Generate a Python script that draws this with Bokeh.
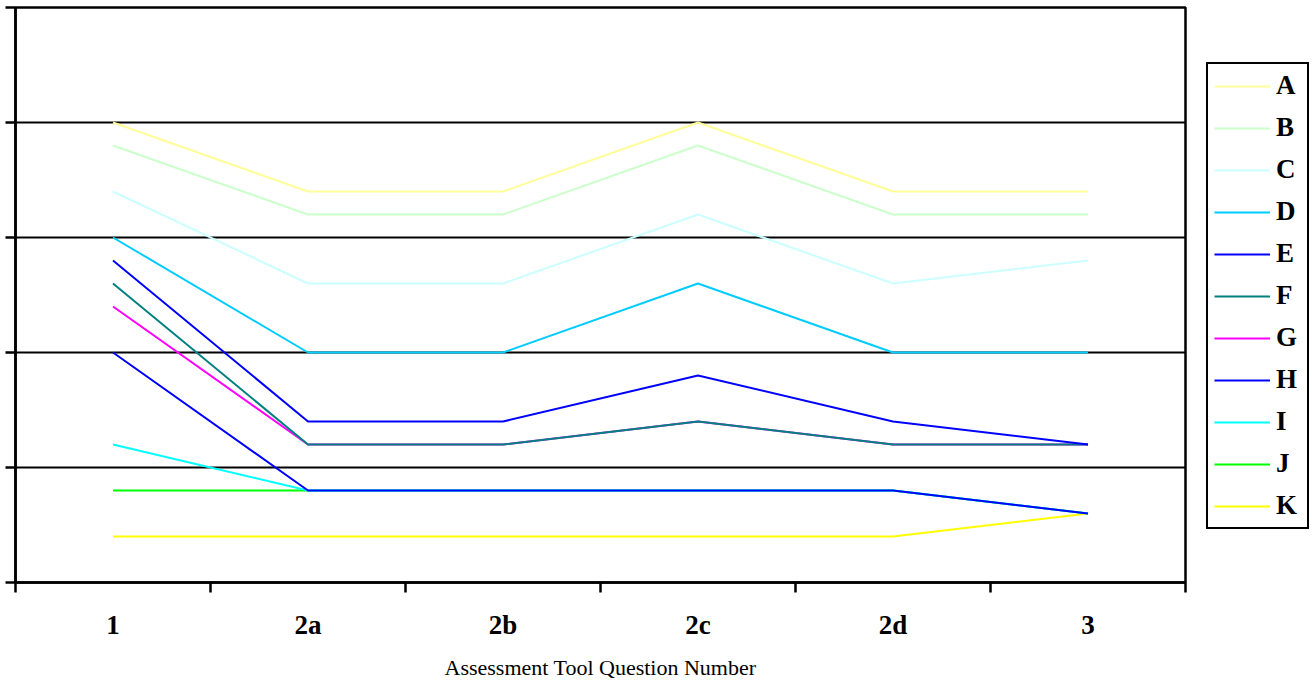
from bokeh.plotting import figure
from bokeh.layouts import row
from bokeh.models import (Range1d, FixedTicker, CustomJSTickFormatter, Legend, LegendItem)
from bokeh.embed import file_html
from bokeh.resources import INLINE

# Question numbers along the horizontal axis
categories = ["1", "2a", "2b", "2c", "2d", "3"]

# Series names, line colours and scores per question
series_names = ["A", "B", "C", "D", "E", "F", "G", "H", "I", "J", "K"]
series_colors = ["#FFFF99", "#CCFFCC", "#CCFFFF", "#00CCFF", "#0000FF", "#008080",
                 "#FF00FF", "#0000FF", "#00FFFF", "#00FF00", "#FFFF00"]

A = [4.0, 3.4, 3.4, 4.0, 3.4, 3.4]
B = [3.8, 3.2, 3.2, 3.8, 3.2, 3.2]
C = [3.4, 2.6, 2.6, 3.2, 2.6, 2.8]
D = [3.0, 2.0, 2.0, 2.6, 2.0, 2.0]
E = [2.8, 1.4, 1.4, 1.8, 1.4, 1.2]
F = [2.6, 1.2, 1.2, 1.4, 1.2, 1.2]
G = [2.4, 1.2, 1.2, 1.4, 1.2, 1.2]
H = [2.0, 0.8, 0.8, 0.8, 0.8, 0.6]
I = [1.2, 0.8, 0.8, 0.8, 0.8, 0.6]
J = [0.8, 0.8, 0.8, 0.8, 0.8, 0.6]
K = [0.4, 0.4, 0.4, 0.4, 0.4, 0.6]
series_values = [A, B, C, D, E, F, G, H, I, J, K]

y_ticks = [0, 1, 2, 3, 4, 5]

SERIF = "Liberation Serif"

p = figure(width=1195, height=685,
           x_range=Range1d(0, len(categories)), y_range=Range1d(0, 5),
           output_backend="svg", toolbar_location=None,
           min_border_left=15, min_border_right=10,
           min_border_top=7, min_border_bottom=103,
           background_fill_color="white", border_fill_color="white")

p.outline_line_color = "black"
p.outline_line_width = 2.5

# category centres sit halfway between boundary ticks
centers = [i + 0.5 for i in range(len(categories))]
bounds = list(range(len(categories) + 1))

xa = p.xaxis[0]
xa.ticker = FixedTicker(ticks=centers, minor_ticks=bounds)
xa.formatter = CustomJSTickFormatter(args=dict(labels=categories),
                                     code="return labels[Math.floor(tick)] || '';")
xa.major_tick_out = 0
xa.major_tick_in = 0
xa.minor_tick_out = 10
xa.minor_tick_in = 0
xa.minor_tick_line_color = "black"
xa.minor_tick_line_width = 2.5
xa.axis_line_color = "black"
xa.axis_line_width = 2.5
xa.major_label_text_font = SERIF
xa.major_label_text_font_style = "bold"
xa.major_label_text_font_size = "27px"
xa.major_label_text_color = "black"
xa.major_label_standoff = 17
xa.axis_label = "Assessment Tool Question Number"
xa.axis_label_text_font = SERIF
xa.axis_label_text_font_style = "normal"
xa.axis_label_text_font_size = "22px"
xa.axis_label_text_color = "black"
xa.axis_label_standoff = 12

ya = p.yaxis[0]
ya.ticker = FixedTicker(ticks=y_ticks)
ya.formatter = CustomJSTickFormatter(code="return '';")
ya.major_label_text_font_size = "0px"
ya.major_label_standoff = 0
ya.major_tick_out = 10
ya.major_tick_in = 0
ya.major_tick_line_color = "black"
ya.major_tick_line_width = 2.5
ya.minor_tick_line_color = None
ya.axis_line_color = "black"
ya.axis_line_width = 2.5

p.xgrid.visible = False
p.ygrid.ticker = FixedTicker(ticks=y_ticks)
p.ygrid.grid_line_color = "black"
p.ygrid.grid_line_width = 2

# draw the last series first so that earlier series stay on top
for name, color, vals in reversed(list(zip(series_names, series_colors, series_values))):
    p.line(centers, vals, line_color=color, line_width=2)

# narrow panel holding the key; its hidden lines only supply the swatches
key = figure(width=120, height=685, x_range=Range1d(0, 1), y_range=Range1d(0, 1),
             output_backend="svg", toolbar_location=None,
             x_axis_type=None, y_axis_type=None,
             min_border=0, outline_line_color=None,
             background_fill_color="white", border_fill_color="white")
key.xgrid.visible = False
key.ygrid.visible = False

items = []
for name, color, vals in zip(series_names, series_colors, series_values):
    r = key.line(centers, vals, line_color=color, line_width=2, visible=False)
    items.append(LegendItem(label=name, renderers=[r]))

legend = Legend(items=items, location=(11, 53), orientation="vertical",
                border_line_color="black", border_line_width=2, border_line_alpha=1,
                background_fill_color="white", background_fill_alpha=1,
                inactive_fill_alpha=0,
                label_text_font=SERIF, label_text_font_style="bold",
                label_text_font_size="27px", label_text_color="black",
                glyph_width=56, glyph_height=30, label_height=30, label_width=25,
                label_standoff=6, spacing=11, padding=6, margin=0)
key.add_layout(legend, "center")

layout = row(p, key, spacing=0)

open("out.html", "w").write(file_html(layout, INLINE))
